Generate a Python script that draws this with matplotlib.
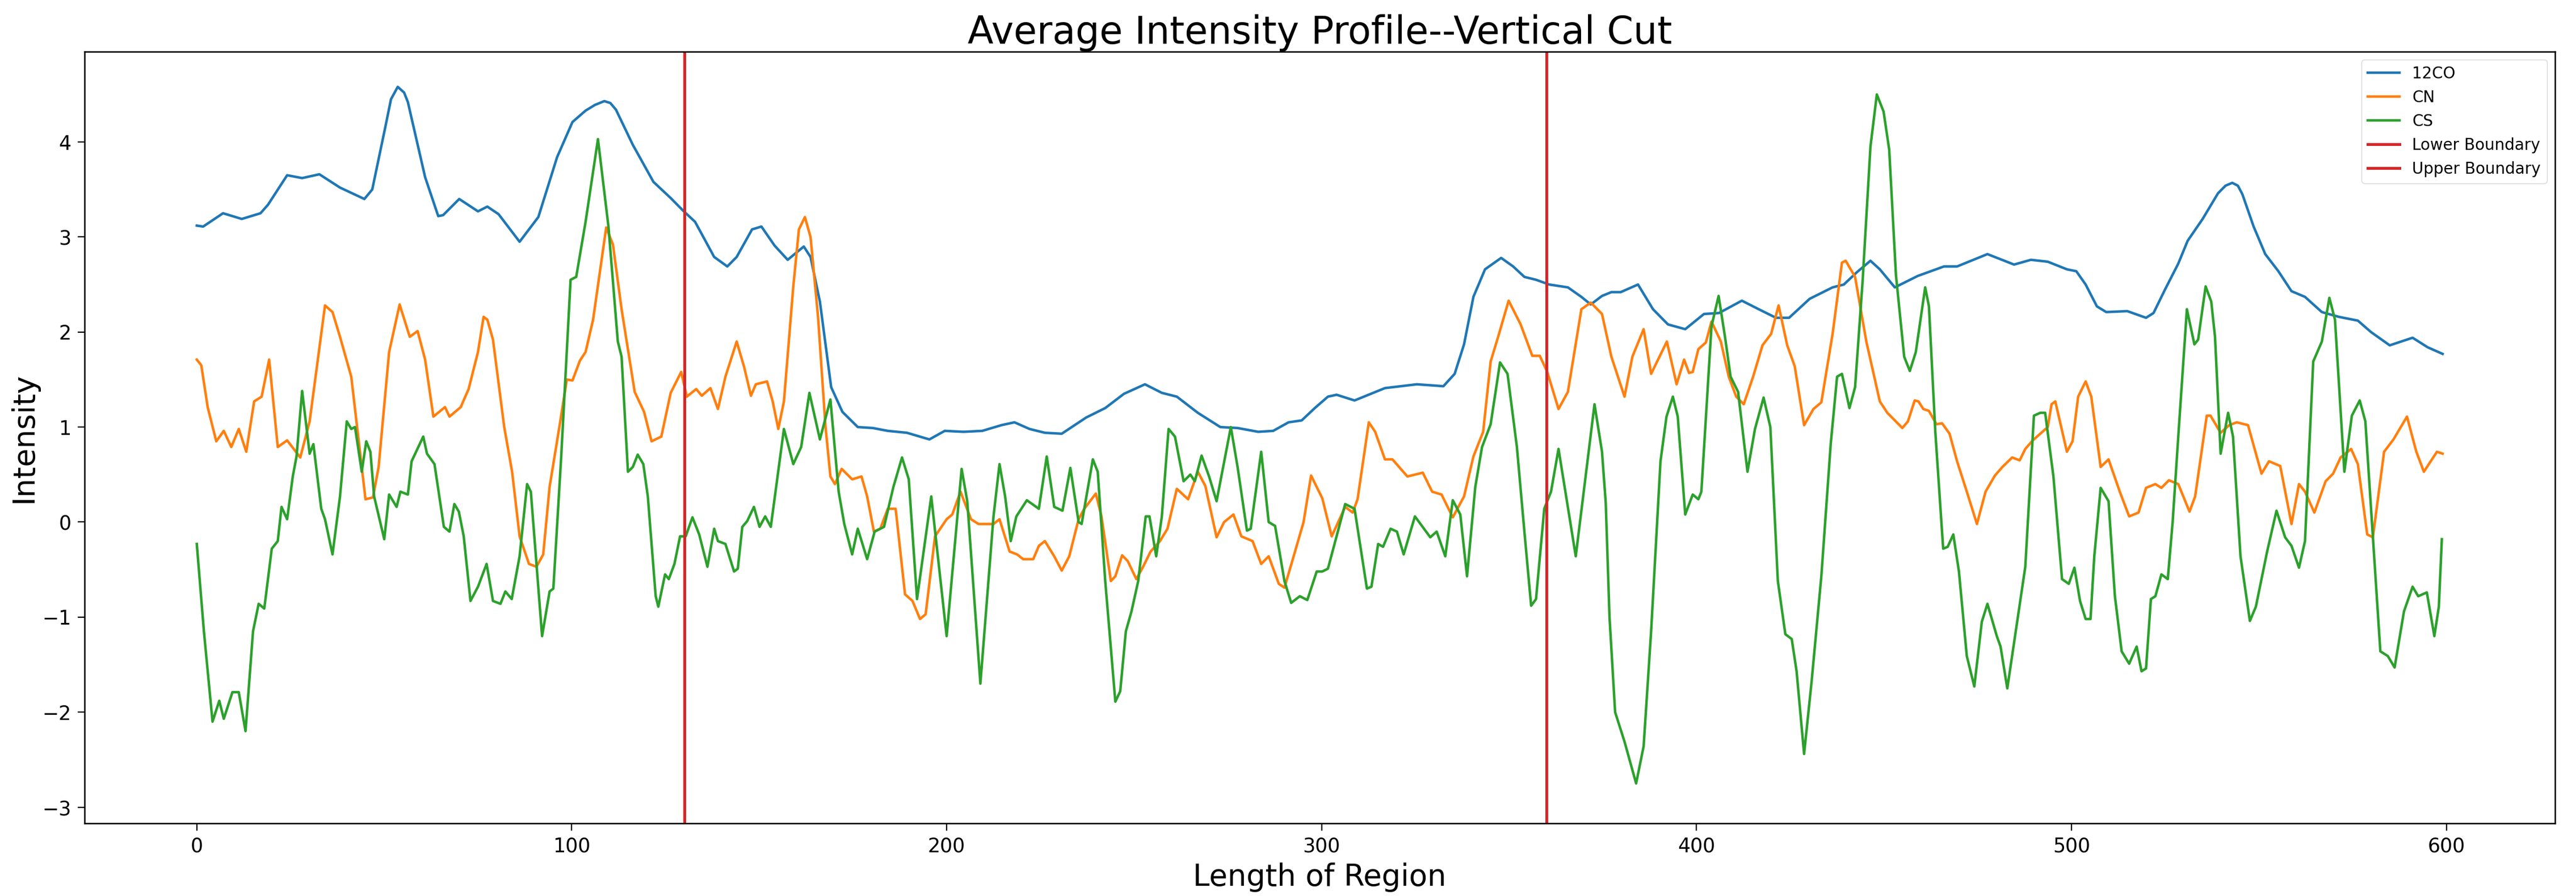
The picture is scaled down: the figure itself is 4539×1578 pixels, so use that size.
import matplotlib
matplotlib.use('Agg')
import matplotlib.pyplot as plt

# values (x = position along region, y = intensity)
co_x = [0, 1.7, 7.0, 12.0, 17.0, 19.0, 24.1, 28.1, 32.7, 38.2, 44.7, 46.8, 50.3, 51.8, 53.6, 55.3, 56.3, 60.9,
        64.4, 65.7, 70.0, 75.0, 77.5, 80.5, 86.1, 91.1, 96.1, 100.2, 103.7, 106.2, 108.7, 110.3, 111.8, 116.3,
        121.8, 126.4, 129.9, 132.9, 138.0, 141.5, 144.0, 148.1, 150.6, 154.1, 157.6, 161.9, 163.7,
        166.2, 169.2, 172.2, 176.3, 180.3, 184.3, 189.4, 195.4, 199.5, 204.5, 209.5, 214.6, 218.1,
        222.1, 226.2, 230.7, 237.2, 242.3, 247.3, 252.9, 257.4, 261.4, 267.0, 273.0, 277.6, 283.1,
        287.1, 291.2, 294.7, 298.2, 301.7, 304.0, 308.8, 316.9, 325.4, 332.5, 335.5, 338.0, 340.5,
        343.6, 347.9, 351.1, 354.1, 357.2, 360.7, 365.7, 369.3, 371.8, 374.8, 377.3, 379.8, 384.4,
        388.4, 392.4, 397.0, 402.0, 406.0, 412.1, 416.6, 421.2, 424.7, 430.2, 436.3, 439.3, 442.8,
        446.4, 448.9, 452.9, 459.0, 466.0, 469.5, 477.6, 484.7, 489.2, 493.7, 498.8, 501.3, 503.8,
        506.8, 509.3, 514.9, 519.9, 521.9, 525.0, 528.5, 531.0, 535.0, 539.1, 541.1, 542.9, 544.4, 545.6, 548.6,
        551.7, 555.2, 558.7, 562.3, 566.8, 571.3, 576.4, 579.9, 584.9, 591.0, 595.0, 599.0]
co_y = [3.12, 3.11, 3.25, 3.19, 3.25, 3.34, 3.65, 3.62, 3.66, 3.52, 3.40, 3.50, 4.16, 4.45, 4.58, 4.52, 4.42, 3.63,
        3.22, 3.23, 3.40, 3.27, 3.32, 3.24, 2.95, 3.21, 3.84, 4.21, 4.33, 4.39, 4.43, 4.41, 4.34, 3.97,
        3.58, 3.41, 3.27, 3.16, 2.79, 2.69, 2.79, 3.08, 3.11, 2.91, 2.76, 2.90, 2.79,
        2.32, 1.42, 1.16, 1.00, 0.99, 0.96, 0.94, 0.87, 0.96, 0.95, 0.96, 1.02, 1.05,
        0.98, 0.94, 0.93, 1.10, 1.20, 1.35, 1.45, 1.36, 1.32, 1.15, 1.00, 0.99, 0.95,
        0.96, 1.05, 1.07, 1.20, 1.32, 1.34, 1.28, 1.41, 1.45, 1.43, 1.56, 1.87, 2.37,
        2.66, 2.78, 2.69, 2.58, 2.55, 2.50, 2.47, 2.37, 2.29, 2.38, 2.42, 2.42, 2.50,
        2.24, 2.08, 2.03, 2.19, 2.20, 2.33, 2.24, 2.15, 2.15, 2.35, 2.47, 2.50, 2.63,
        2.75, 2.66, 2.47, 2.59, 2.69, 2.69, 2.82, 2.71, 2.76, 2.74, 2.66, 2.64, 2.50,
        2.27, 2.21, 2.22, 2.15, 2.20, 2.45, 2.72, 2.96, 3.19, 3.46, 3.54, 3.57, 3.54, 3.45, 3.11,
        2.82, 2.64, 2.43, 2.37, 2.21, 2.16, 2.12, 2.00, 1.86, 1.94, 1.84, 1.77]

cn_x = [0, 1.2, 2.9, 5.2, 7.2, 9.2, 11.2, 13.2, 15.3, 17.3, 19.3, 21.6, 24.1, 27.6, 30.1, 34.2, 36.2,
        38.2, 41.2, 45.0, 47.0, 48.5, 51.3, 54.1, 56.8, 58.9, 60.9, 63.1, 66.2, 67.4, 70.4, 72.5,
        75.0, 76.5, 77.5, 79.0, 82.0, 84.1, 86.1, 88.6, 90.6, 92.4, 94.1, 96.7, 98.7, 100.2, 102.2,
        103.7, 105.7, 109.2, 111.0, 113.3, 116.8, 119.3, 121.3, 123.9, 126.4, 129.2, 130.7, 133.2,
        134.7, 137.0, 139.0, 141.0, 144.0, 146.0, 147.8, 149.1, 152.1, 153.6, 155.1, 156.6, 159.1,
        160.6, 162.2, 163.7, 165.7, 167.7, 169.0, 170.2, 172.0, 174.8, 177.3, 178.8, 180.6, 182.3,
        184.3, 186.4, 188.9, 190.9, 192.9, 194.4, 196.9, 200.0, 201.5, 203.7, 206.5, 208.5, 212.5,
        214.1, 216.8, 218.8, 220.4, 223.1, 224.6, 226.2, 228.7, 230.7, 232.7, 235.2, 236.7, 239.8,
        241.3, 243.8, 245.0, 246.8, 248.3, 250.6, 252.4, 254.4, 256.9, 258.9, 261.4, 264.4, 267.0,
        269.0, 272.0, 274.0, 276.5, 278.6, 281.6, 283.9, 285.9, 288.6, 290.1, 292.7, 295.2, 297.2,
        300.2, 302.7, 306.3, 308.3, 309.6, 312.6, 314.3, 316.9, 318.9, 322.9, 327.0, 329.5, 332.0,
        335.0, 338.0, 340.5, 343.1, 345.1, 347.1, 349.9, 353.1, 356.2, 358.2, 360.2, 363.2, 365.7,
        369.3, 371.8, 374.8, 377.3, 380.8, 382.9, 385.9, 387.9, 392.1, 394.7, 396.7, 398.0, 399.0,
        400.5, 402.5, 404.0, 406.5, 408.6, 410.6, 412.6, 415.1, 417.6, 419.9, 421.9, 424.2, 426.2,
        428.7, 431.2, 433.3, 436.3, 438.8, 439.8, 442.3, 445.3, 448.9, 450.9, 452.9, 454.9, 456.4,
        458.2, 459.2, 460.5, 462.0, 464.0, 465.5, 467.5, 469.5, 472.1, 474.8, 477.1, 479.6, 481.6,
        484.2, 486.2, 487.7, 489.7, 491.7, 493.7, 494.7, 495.7, 498.8, 500.3, 501.8, 503.8, 505.3,
        507.8, 509.9, 512.9, 515.4, 517.9, 519.9, 522.4, 524.0, 526.0, 528.5, 531.5, 533.0, 536.1,
        537.1, 539.8, 542.1, 544.1, 547.1, 550.7, 552.7, 555.7, 558.7, 560.7, 562.3, 564.8, 567.8,
        569.8, 571.8, 574.6, 576.4, 578.9, 580.4, 583.4, 585.9, 589.5, 592.0, 594.0, 597.5, 599.0]
cn_y = [1.71, 1.65, 1.21, 0.85, 0.96, 0.79, 0.98, 0.74, 1.27, 1.32, 1.71, 0.79, 0.86, 0.68, 1.06, 2.28, 2.21,
        1.95, 1.53, 0.24, 0.26, 0.58, 1.79, 2.29, 1.95, 2.01, 1.71, 1.11, 1.21, 1.11, 1.21, 1.40,
        1.79, 2.16, 2.13, 1.92, 1.00, 0.53, -0.15, -0.44, -0.47, -0.34, 0.37, 1.00, 1.50, 1.49, 1.70,
        1.79, 2.13, 3.10, 2.92, 2.24, 1.37, 1.16, 0.85, 0.90, 1.36, 1.58, 1.32, 1.40,
        1.33, 1.41, 1.19, 1.53, 1.90, 1.63, 1.33, 1.45, 1.48, 1.27, 0.98, 1.27, 2.48,
        3.08, 3.21, 3.00, 2.16, 1.00, 0.48, 0.40, 0.56, 0.45, 0.48, 0.27, -0.10, -0.07,
        0.14, 0.14, -0.76, -0.83, -1.02, -0.97, -0.15, 0.03, 0.08, 0.32, 0.03, -0.02, -0.02,
        0.03, -0.31, -0.34, -0.39, -0.39, -0.25, -0.20, -0.36, -0.51, -0.36, 0.03, 0.14, 0.30,
        0.06, -0.62, -0.57, -0.35, -0.41, -0.60, -0.47, -0.31, -0.20, -0.07, 0.35, 0.24, 0.53,
        0.38, -0.16, 0.00, 0.08, -0.15, -0.20, -0.44, -0.36, -0.65, -0.69, -0.34, 0.00, 0.49,
        0.25, -0.15, 0.16, 0.10, 0.24, 1.05, 0.95, 0.66, 0.66, 0.48, 0.52, 0.32, 0.29,
        0.05, 0.27, 0.69, 0.95, 1.69, 1.95, 2.33, 2.08, 1.75, 1.75, 1.58, 1.19, 1.37,
        2.24, 2.31, 2.19, 1.74, 1.32, 1.74, 2.03, 1.56, 1.90, 1.45, 1.71, 1.57, 1.58,
        1.82, 1.89, 2.11, 1.90, 1.53, 1.32, 1.24, 1.53, 1.86, 1.98, 2.28, 1.86, 1.64,
        1.02, 1.19, 1.26, 1.98, 2.73, 2.75, 2.58, 1.90, 1.27, 1.15, 1.07, 0.99, 1.06,
        1.28, 1.27, 1.19, 1.17, 1.03, 1.04, 0.93, 0.64, 0.32, -0.02, 0.32, 0.49, 0.58,
        0.68, 0.65, 0.77, 0.86, 0.93, 1.00, 1.24, 1.27, 0.74, 0.85, 1.32, 1.48, 1.32,
        0.58, 0.66, 0.32, 0.06, 0.10, 0.36, 0.40, 0.36, 0.44, 0.40, 0.11, 0.27, 1.12,
        1.12, 0.94, 1.02, 1.05, 1.02, 0.51, 0.64, 0.59, -0.02, 0.40, 0.32, 0.10, 0.43,
        0.51, 0.68, 0.77, 0.61, -0.13, -0.16, 0.74, 0.87, 1.11, 0.74, 0.53, 0.74, 0.72]

cs_x = [0, 1.9, 4.2, 6.0, 7.2, 9.5, 11.2, 13.0, 15.0, 16.5, 18.0, 20.0, 21.6, 22.6, 24.1, 25.6, 26.6,
        28.1, 30.1, 31.1, 33.2, 34.2, 36.2, 38.2, 40.0, 41.2, 42.2, 44.0, 45.2, 46.3, 47.3, 50.0,
        51.3, 53.3, 54.3, 56.3, 57.3, 60.4, 61.4, 63.4, 65.9, 67.4, 68.7, 69.9, 71.2, 73.0, 75.0,
        77.3, 79.0, 81.0, 82.3, 84.0, 86.1, 88.1, 89.1, 92.1, 94.1, 95.1, 97.2, 99.7, 101.2, 103.7,
        107.0, 109.8, 112.3, 113.3, 115.0, 116.3, 117.6, 119.1, 120.3, 122.4, 123.1, 124.9, 125.9,
        127.4, 128.9, 130.4, 132.2, 134.0, 136.2, 138.0, 139.0, 141.0, 143.3, 144.3, 145.5, 146.8,
        148.6, 150.1, 151.6, 153.1, 156.6, 159.1, 161.2, 163.4, 166.2, 169.0, 171.2, 172.7, 174.8,
        176.3, 178.8, 180.8, 183.3, 185.8, 188.1, 189.9, 192.1, 195.9, 200.0, 204.0, 205.5, 209.0,
        212.5, 214.1, 215.6, 217.1, 218.6, 221.4, 224.6, 226.7, 228.7, 230.9, 233.0, 235.2, 236.0,
        239.0, 240.3, 242.3, 245.0, 246.3, 247.8, 249.3, 251.1, 253.1, 254.1, 255.9, 257.4, 259.2,
        260.9, 263.2, 265.0, 266.2, 268.0, 270.0, 272.0, 275.8, 277.6, 280.1, 281.1, 283.9, 285.9,
        287.6, 290.1, 291.9, 294.2, 296.2, 298.7, 300.2, 301.7, 306.3, 308.8, 312.1, 313.3, 315.1,
        316.4, 318.4, 320.1, 321.9, 324.9, 329.0, 330.7, 333.0, 335.0, 337.0, 338.8, 341.0, 342.8,
        345.1, 347.6, 349.6, 352.1, 354.1, 355.9, 357.2, 359.4, 361.2, 363.2, 367.8, 372.8, 374.8,
        375.8, 376.8, 378.3, 380.8, 383.9, 385.9, 387.9, 390.4, 392.0, 393.7, 395.0, 397.0, 399.0,
        400.5, 401.3, 404.0, 405.9, 407.6, 409.1, 411.1, 413.6, 415.6, 417.9, 419.7, 421.7, 423.7,
        425.4, 426.7, 428.7, 430.7, 433.3, 435.8, 437.5, 438.8, 440.8, 442.3, 444.3, 446.4, 448.1,
        449.9, 451.4, 453.2, 455.4, 456.9, 458.5, 461.0, 462.0, 463.7, 465.8, 467.0, 468.5, 470.0,
        472.1, 474.1, 476.1, 477.6, 480.1, 481.1, 482.9, 487.7, 490.0, 491.7, 493.0, 495.2, 497.5,
        499.3, 500.8, 502.3, 503.8, 505.1, 506.1, 507.8, 509.9, 511.6, 513.4, 515.4, 517.4, 518.7,
        519.9, 521.2, 522.4, 524.0, 525.7, 527.0, 528.5, 530.8, 532.8, 533.8, 535.8, 537.3, 538.3,
        539.8, 541.8, 543.1, 545.1, 547.6, 549.2, 552.2, 554.7, 557.0, 558.7, 560.7, 562.3, 564.5,
        566.8, 568.8, 570.3, 572.8, 574.8, 576.9, 578.4, 580.4, 582.4, 584.4, 586.2, 588.7, 591.0,
        592.5, 594.8, 596.8, 598.0, 598.8]
cs_y = [-0.23, -1.15, -2.10, -1.88, -2.07, -1.79, -1.79, -2.20, -1.15, -0.86, -0.91, -0.28, -0.20, 0.16, 0.03, 0.48, 0.69,
        1.38, 0.72, 0.82, 0.14, 0.03, -0.34, 0.27, 1.06, 0.98, 1.00, 0.53, 0.85, 0.74, 0.27, -0.18,
        0.29, 0.16, 0.32, 0.29, 0.64, 0.90, 0.72, 0.61, -0.05, -0.10, 0.19, 0.11, -0.15, -0.83, -0.68,
        -0.44, -0.83, -0.86, -0.73, -0.81, -0.36, 0.40, 0.32, -1.20, -0.73, -0.70, 0.69, 2.55, 2.58, 3.16,
        4.03, 3.11, 1.90, 1.74, 0.53, 0.58, 0.71, 0.61, 0.27, -0.78, -0.89, -0.55, -0.60,
        -0.44, -0.15, -0.15, 0.05, -0.13, -0.47, -0.07, -0.20, -0.23, -0.52, -0.49, -0.05, 0.01,
        0.16, -0.05, 0.06, -0.05, 0.98, 0.61, 0.79, 1.36, 0.87, 1.29, 0.32, -0.02, -0.34,
        -0.07, -0.39, -0.10, -0.05, 0.37, 0.68, 0.45, -0.81, 0.27, -1.20, 0.56, 0.22, -1.70,
        0.06, 0.61, 0.27, -0.20, 0.06, 0.23, 0.14, 0.69, 0.16, 0.12, 0.57, 0.00, -0.02,
        0.66, 0.53, -0.62, -1.89, -1.78, -1.15, -0.94, -0.62, 0.06, 0.06, -0.36, 0.06, 0.98,
        0.90, 0.43, 0.50, 0.43, 0.70, 0.48, 0.22, 1.00, 0.58, -0.09, -0.07, 0.74, 0.00,
        -0.04, -0.62, -0.85, -0.78, -0.82, -0.52, -0.52, -0.49, 0.19, 0.14, -0.70, -0.68, -0.23,
        -0.26, -0.07, -0.10, -0.34, 0.06, -0.16, -0.10, -0.36, 0.23, 0.08, -0.57, 0.37, 0.79,
        1.03, 1.68, 1.56, 0.79, -0.10, -0.88, -0.81, 0.14, 0.32, 0.77, -0.36, 1.24, 0.74,
        0.20, -1.00, -2.00, -2.31, -2.75, -2.36, -1.15, 0.64, 1.11, 1.32, 1.11, 0.08, 0.29,
        0.24, 0.32, 2.06, 2.38, 1.95, 1.53, 1.37, 0.53, 0.98, 1.31, 1.00, -0.62, -1.18,
        -1.23, -1.57, -2.44, -1.68, -0.57, 0.82, 1.53, 1.56, 1.20, 1.42, 2.53, 3.95, 4.50,
        4.32, 3.92, 2.60, 1.74, 1.59, 1.79, 2.47, 2.27, 0.95, -0.28, -0.26, -0.13, -0.52,
        -1.41, -1.73, -1.05, -0.86, -1.20, -1.31, -1.75, -0.47, 1.12, 1.15, 1.15, 0.48, -0.60,
        -0.65, -0.48, -0.83, -1.02, -1.02, -0.36, 0.36, 0.22, -0.78, -1.36, -1.49, -1.31, -1.57,
        -1.54, -0.81, -0.78, -0.55, -0.60, 0.00, 0.90, 2.24, 1.87, 1.92, 2.48, 2.32, 1.95,
        0.72, 1.15, 0.90, -0.36, -1.04, -0.89, -0.31, 0.12, -0.16, -0.25, -0.48, -0.20, 1.69,
        1.90, 2.36, 2.13, 0.53, 1.12, 1.28, 1.06, -0.15, -1.36, -1.41, -1.53, -0.94, -0.68,
        -0.78, -0.74, -1.20, -0.89, -0.18]

lower_bound = 130
upper_bound = 360

fig = plt.figure(figsize=(45.39, 15.78), dpi=100)
ax = fig.add_axes([0.0328, 0.0811, 0.9590, 0.8612])

lw = 3.2
ax.plot(co_x, co_y, color='tab:blue', lw=lw, label='12CO')
ax.plot(cn_x, cn_y, color='tab:orange', lw=lw, label='CN')
ax.plot(cs_x, cs_y, color='tab:green', lw=lw, label='CS')
ax.axvline(lower_bound, color='tab:red', lw=3.6, label='Lower Boundary')
ax.axvline(upper_bound, color='tab:red', lw=3.6, label='Upper Boundary')

ax.set_xlim(-29.95, 628.95)
ax.set_ylim(-3.17, 4.95)
ax.set_title('Average Intensity Profile--Vertical Cut', fontsize=48, pad=10)
ax.set_xlabel('Length of Region', fontsize=38, labelpad=8)
ax.set_ylabel('Intensity', fontsize=38, labelpad=4)
ax.tick_params(labelsize=25, length=9, width=1.6, pad=8)
for s in ax.spines.values():
    s.set_linewidth(1.8)

ax.legend(loc='upper right', fontsize=20)

fig.savefig('out.png', dpi=100)
